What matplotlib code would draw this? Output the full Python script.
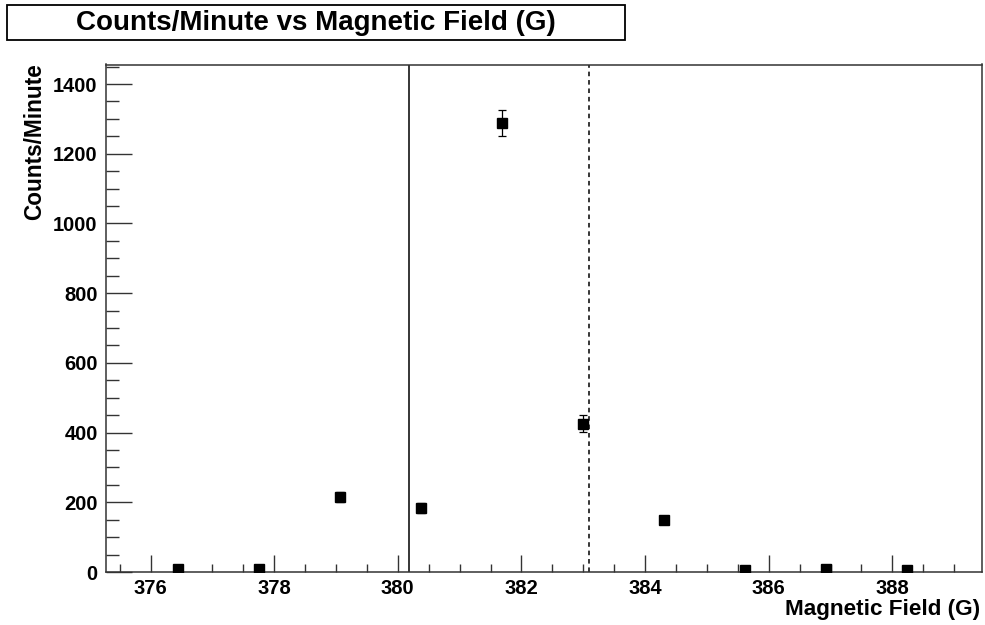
import numpy as np
import matplotlib
matplotlib.use('Agg')
import matplotlib.pyplot as plt
from matplotlib.patches import Rectangle
from matplotlib.ticker import MultipleLocator

# data
field = [376.45, 377.76, 379.07, 380.38, 381.69, 383.00, 384.31, 385.62, 386.93, 388.24]
counts = [10, 10, 215, 184, 1288, 426, 150, 5, 10, 7]
errors = [3, 3, 15, 14, 37, 24, 12, 2, 3, 3]
line_solid = 380.18
line_dashed = 383.10

plt.rcParams['font.family'] = ['Liberation Sans', 'DejaVu Sans']
plt.rcParams['font.weight'] = 'bold'

W, H = 985, 625
fig = plt.figure(figsize=(W / 100, H / 100), dpi=100)
ax = fig.add_axes([106 / W, 1 - 572 / H, (982 - 106) / W, (572 - 64.5) / H])

ax.errorbar(field, counts, yerr=errors, fmt='s', color='black', markersize=7.9,
            ecolor='black', elinewidth=0.9, capsize=2.6, capthick=0.9, zorder=3)
ax.axvline(line_solid, color='black', lw=1.1)
ax.axvline(line_dashed, color='black', lw=1.1, linestyle=(0, (3, 2.5)))

ax.set_xlim(375.28, 389.45)
ax.set_ylim(0, 1456)
ax.xaxis.set_major_locator(MultipleLocator(2))
ax.xaxis.set_minor_locator(MultipleLocator(0.5))
ax.yaxis.set_major_locator(MultipleLocator(200))
ax.yaxis.set_minor_locator(MultipleLocator(50))

for s in ax.spines.values():
    s.set_color('#333333')
    s.set_linewidth(1.1)

ax.tick_params(axis='both', which='both', direction='in', top=False, right=False,
               colors='#333333', labelcolor='black', labelsize=14.5, width=1.0)
ax.tick_params(axis='x', which='major', length=12, pad=5)
ax.tick_params(axis='x', which='minor', length=6)
ax.tick_params(axis='y', which='major', length=19, pad=6)
ax.tick_params(axis='y', which='minor', length=9.5)
for lab in ax.get_xticklabels() + ax.get_yticklabels():
    lab.set_fontweight('bold')

# title box
fig.patches.append(Rectangle((7 / W, 1 - 40 / H), (625 - 7) / W, 35 / H,
                             transform=fig.transFigure, fill=False,
                             edgecolor='black', linewidth=1.3))
fig.text(316 / W, 1 - 22.5 / H, 'Counts/Minute vs Magnetic Field (G)',
         ha='center', va='center', fontsize=20, fontweight='bold')

fig.text(35 / W, 1 - 63 / H, 'Counts/Minute', rotation=90, ha='center', va='top',
         fontsize=16.3, fontweight='bold')
fig.text(980 / W, 1 - 609 / H, 'Magnetic Field (G)', ha='right', va='center',
         fontsize=16.2, fontweight='bold')

fig.savefig('out.png', dpi=100)
